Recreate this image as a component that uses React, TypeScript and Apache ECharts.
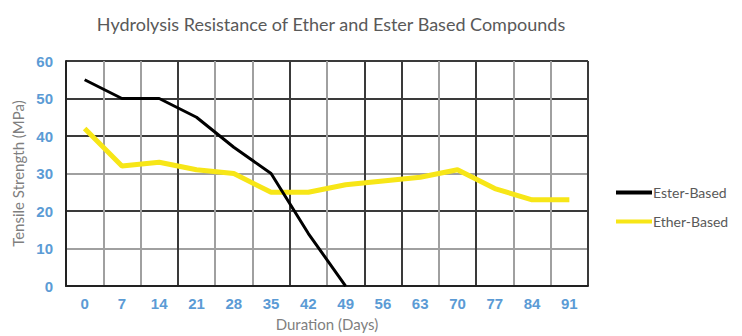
import React, { useEffect, useRef } from "react";
import * as echarts from "echarts";

const days = ["0", "7", "14", "21", "28", "35", "42", "49", "56", "63", "70", "77", "84", "91"];
const esterBased = [55, 50, 50, 45, 37, 30, 14, 0, null, null, null, null, null, null];
const etherBased = [42, 32, 33, 31, 30, 25, 25, 27, 28, 29, 31, 26, 23, 23];

const DARK = "#3a3a3a";
const GREY = "#a0a0a0";
const xSplitColors = [DARK, GREY, GREY, DARK, GREY, GREY, DARK, GREY, DARK, DARK, GREY, DARK, GREY, GREY, DARK];
const ySplitColors = [DARK, GREY, DARK, GREY, DARK, DARK, DARK];

export default function App() {
  const ref = useRef<HTMLDivElement>(null);
  useEffect(() => {
    if (!ref.current) return;
    const chart = echarts.init(ref.current, undefined, { renderer: "svg" });
    chart.setOption({
      animation: false,
      backgroundColor: "#ffffff",
      title: {
        text: "Hydrolysis Resistance of Ether and Ester Based Compounds",
        left: 326,
        top: 10,
        textAlign: "center",
        textStyle: { fontFamily: "Lato", fontWeight: "normal", fontSize: 18, color: "#595959" },
      },
      legend: {
        orient: "vertical",
        left: 611,
        top: 180,
        itemWidth: 36,
        itemHeight: 4,
        itemGap: 14,
        icon: "rect",
        textStyle: { fontFamily: "Lato", fontSize: 14, color: "#595959", lineHeight: 15, padding: [0, 0, 0, -4] },
        data: ["Ester-Based", "Ether-Based"],
      },
      grid: { left: 66, right: 154, top: 61, bottom: 48 },
      xAxis: {
        type: "category",
        data: days,
        boundaryGap: true,
        name: "Duration (Days)",
        nameLocation: "middle",
        nameGap: 29,
        nameTextStyle: { fontFamily: "Lato", fontSize: 15, color: "#7f7f7f" },
        axisLine: { show: true, lineStyle: { color: "#222", width: 2 } },
        axisTick: { show: false },
        axisLabel: { fontFamily: "Liberation Sans", fontWeight: "bold", fontSize: 15, color: "#5B9BD5", margin: 10 },
        splitLine: { show: true, interval: 0, lineStyle: { color: xSplitColors, width: 2 } },
      },
      yAxis: {
        type: "value",
        min: 0,
        max: 60,
        interval: 10,
        name: "Tensile Strength (MPa)",
        nameLocation: "middle",
        nameGap: 38,
        nameTextStyle: { fontFamily: "Lato", fontSize: 15, color: "#7f7f7f" },
        axisLine: { show: true, lineStyle: { color: "#222", width: 2 } },
        axisTick: { show: false },
        axisLabel: { fontFamily: "Liberation Sans", fontWeight: "bold", fontSize: 15, color: "#5B9BD5", margin: 13 },
        splitLine: { show: true, lineStyle: { color: ySplitColors, width: 2 } },
      },
      series: [
        {
          name: "Ester-Based",
          type: "line",
          data: esterBased,
          showSymbol: false,
          symbol: "none",
          color: "#000000",
          lineStyle: { color: "#000000", width: 3 },
          z: 3,
        },
        {
          name: "Ether-Based",
          type: "line",
          data: etherBased,
          showSymbol: false,
          symbol: "none",
          color: "#F7E617",
          lineStyle: { color: "#F7E617", width: 5 },
          z: 2,
        },
      ],
    });
    return () => chart.dispose();
  }, []);
  return <div ref={ref} style={{ position: "fixed", left: 0, top: 0, width: 742, height: 336 }} />;
}
